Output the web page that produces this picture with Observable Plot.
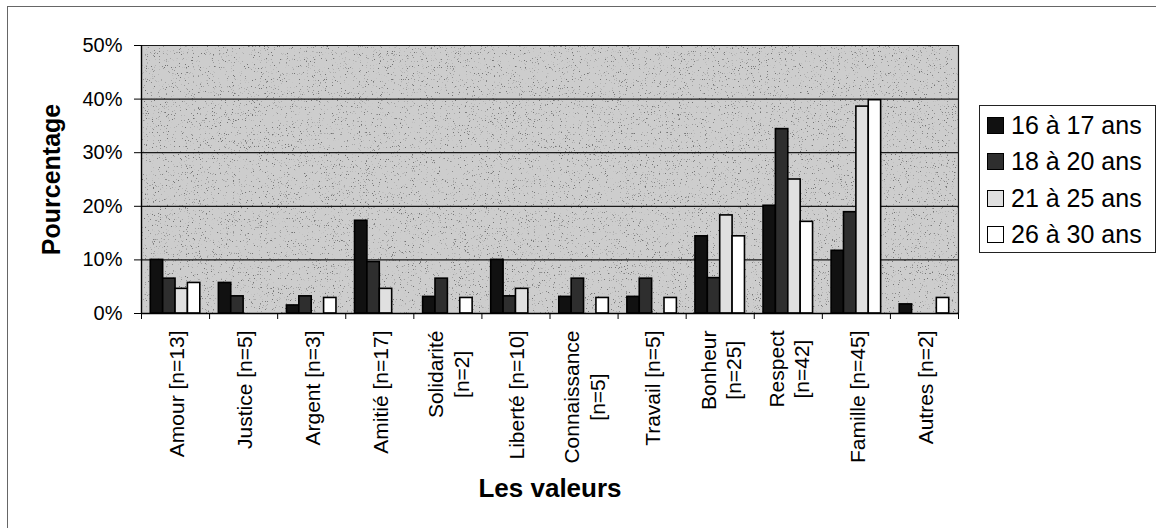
<!DOCTYPE html>
<html><head><meta charset="utf-8">
<script src="https://cdn.jsdelivr.net/npm/d3@7"></script>
<script src="https://cdn.jsdelivr.net/npm/@observablehq/plot@0.6"></script>
<style>
html,body{margin:0;padding:0;background:#fff;}
#wrap{position:relative;width:1156px;height:528px;overflow:hidden;font-family:"Liberation Sans",Arial,sans-serif;}
#border{position:absolute;left:7px;top:6px;width:1200px;height:600px;border:1px solid #666;box-sizing:border-box;}
#chart{position:absolute;left:0;top:0;}
#legend{position:absolute;left:979px;top:105px;width:177px;height:148px;border:1px solid #222;background:#fff;box-sizing:border-box;}
.row{position:absolute;left:7px;height:30px;display:flex;align-items:center;font-size:25px;color:#000;white-space:nowrap;}
.sw{width:17px;height:17px;border:1.5px solid #000;margin-right:7px;box-sizing:border-box;}
</style></head>
<body>
<div id="wrap"><div id="border"></div><div id="chart"></div><div id="legend"></div></div>
<script>
const categories = ["Amour [n=13]", "Justice [n=5]", "Argent [n=3]", "Amitié [n=17]", "Solidarité\n[n=2]", "Liberté [n=10]", "Connaissance\n[n=5]", "Travail [n=5]", "Bonheur\n[n=25]", "Respect\n[n=42]", "Famille [n=45]", "Autres [n=2]"];
const series = ["16 à 17 ans", "18 à 20 ans", "21 à 25 ans", "26 à 30 ans"];
const v16_17 = [10.0, 5.7, 1.5, 17.3, 3.1, 10.0, 3.1, 3.1, 14.4, 20.1, 11.7, 1.7];
const v18_20 = [6.5, 3.2, 3.2, 9.6, 6.5, 3.2, 6.5, 6.5, 6.6, 34.4, 18.9, 0];
const v21_25 = [4.6, 0, 0, 4.6, 0, 4.6, 0, 0, 18.3, 25.0, 38.6, 0];
const v26_30 = [5.7, 0, 2.9, 0, 2.9, 0, 2.9, 2.9, 14.4, 17.1, 39.8, 2.9];
const yTicks = [0, 0.1, 0.2, 0.3, 0.4, 0.5];
const fills = ["#111111", "#2e2e2e", "#e0e0e0", "#ffffff"];
const xTitle = "Les valeurs";
const yTitle = "Pourcentage";

const valuesBySeries = [v16_17, v18_20, v21_25, v26_30];
const data = [];
valuesBySeries.forEach((vals, s) => vals.forEach((v, c) => { if (v > 0) data.push({c, s, v: v / 100}); }));
const n = categories.length;
const bw = 1 / 5.5, off = (1 - series.length * bw) / 2;
const font = "'Liberation Sans', Arial, sans-serif";

const chart = Plot.plot({
  width: 1156, height: 528,
  marginLeft: 141, marginRight: 198, marginTop: 45, marginBottom: 215,
  style: {fontFamily: font, background: "transparent", color: "#000"},
  x: {domain: [0, n], axis: null},
  y: {domain: [0, 0.5], axis: null},
  marks: [
    Plot.frame({fill: "#cdcdcd", stroke: null, ariaLabel: "plot-bg"}),
    Plot.ruleY(yTicks, {stroke: "#1a1a1a", strokeWidth: 1.2}),
    Plot.ruleX([n], {stroke: "#1a1a1a", strokeWidth: 1.2}),
    Plot.rect(data, {
      x1: d => d.c + off + d.s * bw,
      x2: d => d.c + off + (d.s + 1) * bw,
      y1: 0, y2: "v",
      fill: d => fills[d.s], stroke: "#000", strokeWidth: 1.6
    }),
    Plot.ruleX([0], {stroke: "#000", strokeWidth: 1.4}),
    Plot.ruleY([0], {stroke: "#000", strokeWidth: 1.4}),
    Plot.axisY({ticks: yTicks, tickFormat: d => Math.round(d * 100) + "%", tickSize: 7, tickPadding: 12, fontSize: 20, label: null, stroke: "#000"}),
    Plot.axisX({ticks: d3.range(n + 1), tickSize: 6, tickFormat: () => "", label: null, stroke: "#000"}),
    Plot.axisX({ticks: d3.range(n).map(i => i + 0.5), tickSize: 0, tickPadding: 17, tickRotate: -90,
      tickFormat: d => categories[Math.floor(d)], fontSize: 21, label: null, lineHeight: 1.22}),
    Plot.text([yTitle], {frameAnchor: "left", dx: -90, rotate: -90, textAnchor: "middle", fontWeight: "bold", fontSize: 25}),
    Plot.text([xTitle], {frameAnchor: "bottom", dy: 175, textAnchor: "middle", lineAnchor: "middle", fontWeight: "bold", fontSize: 26})
  ]
});
document.getElementById("chart").appendChild(chart);

// speckled plot-area fill, like the scanned original
const ns = "http://www.w3.org/2000/svg";
const defs = document.createElementNS(ns, "defs");
defs.innerHTML = `
<filter id="speckle" x="0" y="0" width="100%" height="100%" color-interpolation-filters="sRGB">
  <feTurbulence type="fractalNoise" baseFrequency="0.85" numOctaves="2" seed="7" result="noise"/>
  <feColorMatrix in="noise" type="matrix" values="0 0 0 0 0.45  0 0 0 0 0.45  0 0 0 0 0.45  9 0 0 0 -5.9" result="dots"/>
  <feComposite in="dots" in2="SourceGraphic" operator="atop"/>
</filter>`;
chart.insertBefore(defs, chart.firstChild);
const bg = chart.querySelector('[aria-label="plot-bg"]');
if (bg) bg.setAttribute("filter", "url(#speckle)");

// center multi-line rotated tick labels on each other (block end stays at the axis)
chart.querySelectorAll("text").forEach(t => {
  const spans = t.querySelectorAll("tspan");
  if (spans.length > 1) {
    let maxLen = 0;
    spans.forEach(s => { maxLen = Math.max(maxLen, s.getComputedTextLength()); });
    t.setAttribute("text-anchor", "middle");
    spans.forEach(s => s.setAttribute("x", -maxLen / 2));
  }
});

// legend
const legend = document.getElementById("legend");
series.forEach((s, i) => {
  const row = document.createElement("div");
  row.className = "row";
  row.style.top = (4 + i * 36.5) + "px";
  const sw = document.createElement("div");
  sw.className = "sw";
  sw.style.background = fills[i];
  row.appendChild(sw);
  row.appendChild(document.createTextNode(s));
  legend.appendChild(row);
});
</script>
</body></html>
